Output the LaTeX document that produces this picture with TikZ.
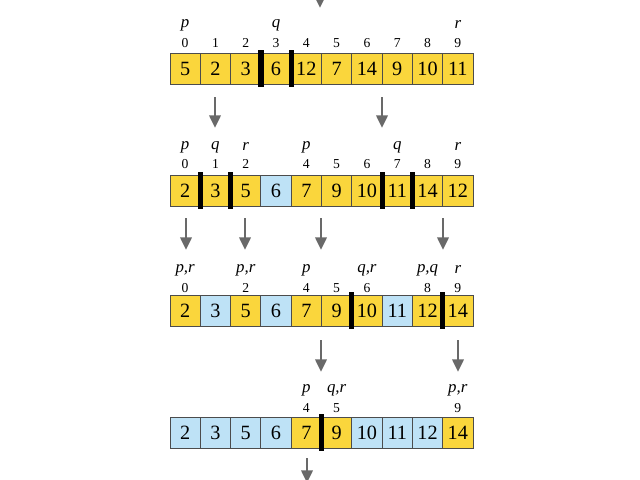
\documentclass[tikz,border=0pt]{standalone}
\usepackage{fontspec}
\setmainfont{Liberation Serif}
\usetikzlibrary{arrows.meta}
\definecolor{cellY}{RGB}{250,214,60}
\definecolor{cellB}{RGB}{190,226,246}
\definecolor{arrowgray}{RGB}{105,105,105}

% one row of the array: name, top edge, list of value/colour
\newcommand{\cellrow}[3]{%
  \foreach \v/\c [count=\i from 0] in {#3} {
    \filldraw[fill=\c, draw=black!70, line width=0.6pt] (170+30.3*\i,#2) rectangle ++(30.3,31);
    \node[val] (#1-\i) at (185.15+30.3*\i,#2+15.5) {\v};
  }}
\newcommand{\splitbar}[2]{\fill (170+30.3*#1-2.6,#2-3) rectangle ++(5.2,37);}

\begin{document}
\begin{tikzpicture}[x=0.025cm,y=-0.025cm,
  down/.style={arrowgray, line width=2pt, -{Triangle[length=9pt,width=8pt]}},
  idx/.style={font=\fontsize{9.7}{11}\selectfont, inner sep=0pt},
  ptr/.style={font=\large\itshape, inner sep=0pt},
  val/.style={font=\Large, inner sep=0pt}]
\useasboundingbox (0,0) rectangle (640,480);

\draw[down] (320,-20) -- (320,8);

% row 1
\cellrow{a}{53}{5/cellY,2/cellY,3/cellY,6/cellY,12/cellY,7/cellY,14/cellY,9/cellY,10/cellY,11/cellY}
\foreach \i in {0,...,9} \node[idx] at (185.15+30.3*\i,43) {\i};
\foreach \i/\t in {0/p,3/q,9/r} \node[ptr] at (185.15+30.3*\i,25) {\t};
\splitbar{3}{53}
\splitbar{4}{53}

\draw[down] (215,97) -- (215,128);
\draw[down] (382,97) -- (382,128);

% row 2
\cellrow{b}{175}{2/cellY,3/cellY,5/cellY,6/cellB,7/cellY,9/cellY,10/cellY,11/cellY,14/cellY,12/cellY}
\foreach \i in {0,1,2,4,5,6,7,8,9} \node[idx] at (185.15+30.3*\i,164) {\i};
\foreach \i/\t in {0/p,1/q,2/r,4/p,7/q,9/r} \node[ptr] at (185.15+30.3*\i,147) {\t};
\foreach \k in {1,2,7,8} {\splitbar{\k}{175}}

\draw[down] (186,218) -- (186,250);
\draw[down] (245,218) -- (245,250);
\draw[down] (321,218) -- (321,250);
\draw[down] (443,218) -- (443,250);

% row 3
\cellrow{c}{295}{2/cellY,3/cellB,5/cellY,6/cellB,7/cellY,9/cellY,10/cellY,11/cellB,12/cellY,14/cellY}
\foreach \i in {0,2,4,5,6,8,9} \node[idx] at (185.15+30.3*\i,288) {\i};
\foreach \i/\t in {0/{p,r},2/{p,r},4/p,6/{q,r},8/{p,q},9/r} \node[ptr] at (185.15+30.3*\i,270) {\t};
\splitbar{6}{295}
\splitbar{9}{295}

\draw[down] (321,340) -- (321,372);
\draw[down] (458,340) -- (458,372);

% row 4
\cellrow{d}{417}{2/cellB,3/cellB,5/cellB,6/cellB,7/cellY,9/cellY,10/cellB,11/cellB,12/cellB,14/cellY}
\foreach \i in {4,5,9} \node[idx] at (185.15+30.3*\i,408) {\i};
\foreach \i/\t in {4/p,5/{q,r},9/{p,r}} \node[ptr] at (185.15+30.3*\i,390) {\t};
\splitbar{5}{417}

\draw[down] (307,458) -- (307,483);
\end{tikzpicture}
\end{document}
